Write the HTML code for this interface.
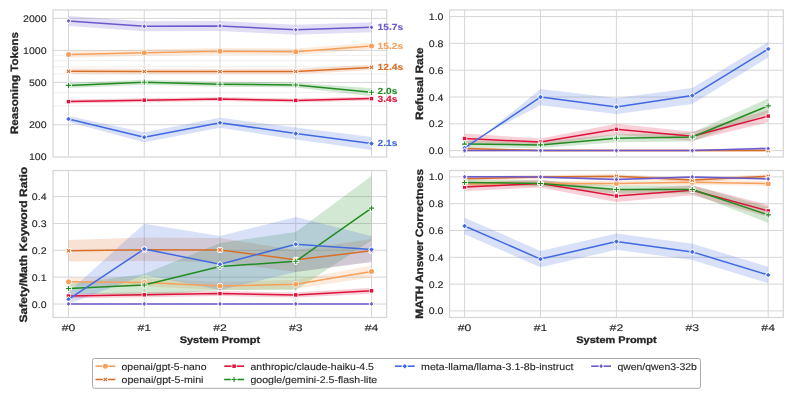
<!DOCTYPE html>
<html><head><meta charset="utf-8"><style>
html,body{margin:0;padding:0;background:#fff;}
svg{display:block;font-family:"Liberation Sans", sans-serif;will-change:transform;text-rendering:geometricPrecision;}
</style></head><body>
<svg width="793" height="397" viewBox="0 0 793 397">
<rect width="793" height="397" fill="#fff"/>
<g>
<line x1="53" y1="105.98" x2="386.7" y2="105.98" stroke="#ebebeb" stroke-width="0.8"/>
<line x1="53" y1="92.7" x2="386.7" y2="92.7" stroke="#ebebeb" stroke-width="0.8"/>
<line x1="53" y1="73.98" x2="386.7" y2="73.98" stroke="#ebebeb" stroke-width="0.8"/>
<line x1="53" y1="66.87" x2="386.7" y2="66.87" stroke="#ebebeb" stroke-width="0.8"/>
<line x1="53" y1="60.7" x2="386.7" y2="60.7" stroke="#ebebeb" stroke-width="0.8"/>
<line x1="53" y1="55.26" x2="386.7" y2="55.26" stroke="#ebebeb" stroke-width="0.8"/>
<line x1="68.5" y1="10" x2="68.5" y2="157" stroke="#d6d6d6" stroke-width="1"/>
<line x1="144.25" y1="10" x2="144.25" y2="157" stroke="#d6d6d6" stroke-width="1"/>
<line x1="220" y1="10" x2="220" y2="157" stroke="#d6d6d6" stroke-width="1"/>
<line x1="295.75" y1="10" x2="295.75" y2="157" stroke="#d6d6d6" stroke-width="1"/>
<line x1="371.5" y1="10" x2="371.5" y2="157" stroke="#d6d6d6" stroke-width="1"/>
<line x1="53" y1="18.4" x2="386.7" y2="18.4" stroke="#d6d6d6" stroke-width="1"/>
<line x1="53" y1="50.4" x2="386.7" y2="50.4" stroke="#d6d6d6" stroke-width="1"/>
<line x1="53" y1="82.4" x2="386.7" y2="82.4" stroke="#d6d6d6" stroke-width="1"/>
<line x1="53" y1="124.7" x2="386.7" y2="124.7" stroke="#d6d6d6" stroke-width="1"/>
<polygon points="68.5,57.7 144.25,55.9 220,54.5 295.75,55 371.5,49.1 371.5,42.7 295.75,48.6 220,48.1 144.25,49.5 68.5,51.3" fill="#F5A05C" fill-opacity="0.2" stroke="none"/>
<polygon points="68.5,74 144.25,74.2 220,74.3 295.75,74.2 371.5,70.1 371.5,64.7 295.75,68.8 220,68.9 144.25,68.8 68.5,68.6" fill="#D9702A" fill-opacity="0.2" stroke="none"/>
<polygon points="68.5,103.6 144.25,102.2 220,101.1 295.75,102.4 371.5,100.6 371.5,96.6 295.75,98.4 220,97.1 144.25,98.2 68.5,99.6" fill="#DC143C" fill-opacity="0.2" stroke="none"/>
<polygon points="68.5,87.9 144.25,84.7 220,86.7 295.75,87.5 371.5,96.3 371.5,88.3 295.75,82.5 220,81.7 144.25,79.7 68.5,82.9" fill="#228B22" fill-opacity="0.2" stroke="none"/>
<polygon points="68.5,122 144.25,142.2 220,127.7 295.75,139.6 371.5,150.1 371.5,137.1 295.75,127.6 220,117.7 144.25,132.2 68.5,116" fill="#4169E1" fill-opacity="0.2" stroke="none"/>
<polygon points="68.5,25.9 144.25,31.3 220,30.9 295.75,34.75 371.5,32.3 371.5,22.3 295.75,24.75 220,20.9 144.25,21.3 68.5,15.9" fill="#6A5ACD" fill-opacity="0.2" stroke="none"/>
<polyline points="68.5,54.5 144.25,52.7 220,51.3 295.75,51.8 371.5,45.9" fill="none" stroke="#F5A05C" stroke-width="1.5" stroke-linejoin="round" stroke-linecap="round"/>
<circle cx="68.5" cy="54.5" r="2.5" fill="#F5A05C" stroke="#fff" stroke-width="1.2800000000000002" paint-order="stroke"/>
<circle cx="144.25" cy="52.7" r="2.5" fill="#F5A05C" stroke="#fff" stroke-width="1.2800000000000002" paint-order="stroke"/>
<circle cx="220" cy="51.3" r="2.5" fill="#F5A05C" stroke="#fff" stroke-width="1.2800000000000002" paint-order="stroke"/>
<circle cx="295.75" cy="51.8" r="2.5" fill="#F5A05C" stroke="#fff" stroke-width="1.2800000000000002" paint-order="stroke"/>
<circle cx="371.5" cy="45.9" r="2.5" fill="#F5A05C" stroke="#fff" stroke-width="1.2800000000000002" paint-order="stroke"/>
<polyline points="68.5,71.3 144.25,71.5 220,71.6 295.75,71.5 371.5,67.4" fill="none" stroke="#D9702A" stroke-width="1.5" stroke-linejoin="round" stroke-linecap="round"/>
<path d="M69.7,69.25L70.55,70.1L69.35,71.3L70.55,72.5L69.7,73.35L68.5,72.15L67.3,73.35L66.45,72.5L67.65,71.3L66.45,70.1L67.3,69.25L68.5,70.45Z" fill="#D9702A" stroke="#fff" stroke-width="1.92" paint-order="stroke"/>
<path d="M145.45,69.45L146.3,70.3L145.1,71.5L146.3,72.7L145.45,73.55L144.25,72.35L143.05,73.55L142.2,72.7L143.4,71.5L142.2,70.3L143.05,69.45L144.25,70.65Z" fill="#D9702A" stroke="#fff" stroke-width="1.92" paint-order="stroke"/>
<path d="M221.2,69.55L222.05,70.4L220.85,71.6L222.05,72.8L221.2,73.65L220,72.45L218.8,73.65L217.95,72.8L219.15,71.6L217.95,70.4L218.8,69.55L220,70.75Z" fill="#D9702A" stroke="#fff" stroke-width="1.92" paint-order="stroke"/>
<path d="M296.95,69.45L297.8,70.3L296.6,71.5L297.8,72.7L296.95,73.55L295.75,72.35L294.55,73.55L293.7,72.7L294.9,71.5L293.7,70.3L294.55,69.45L295.75,70.65Z" fill="#D9702A" stroke="#fff" stroke-width="1.92" paint-order="stroke"/>
<path d="M372.7,65.35L373.55,66.2L372.35,67.4L373.55,68.6L372.7,69.45L371.5,68.25L370.3,69.45L369.45,68.6L370.65,67.4L369.45,66.2L370.3,65.35L371.5,66.55Z" fill="#D9702A" stroke="#fff" stroke-width="1.92" paint-order="stroke"/>
<polyline points="68.5,101.6 144.25,100.2 220,99.1 295.75,100.4 371.5,98.6" fill="none" stroke="#DC143C" stroke-width="1.5" stroke-linejoin="round" stroke-linecap="round"/>
<rect x="66.75" y="99.85" width="3.5" height="3.5" fill="#DC143C" stroke="#fff" stroke-width="1.6" paint-order="stroke"/>
<rect x="142.5" y="98.45" width="3.5" height="3.5" fill="#DC143C" stroke="#fff" stroke-width="1.6" paint-order="stroke"/>
<rect x="218.25" y="97.35" width="3.5" height="3.5" fill="#DC143C" stroke="#fff" stroke-width="1.6" paint-order="stroke"/>
<rect x="294" y="98.65" width="3.5" height="3.5" fill="#DC143C" stroke="#fff" stroke-width="1.6" paint-order="stroke"/>
<rect x="369.75" y="96.85" width="3.5" height="3.5" fill="#DC143C" stroke="#fff" stroke-width="1.6" paint-order="stroke"/>
<polyline points="68.5,85.4 144.25,82.2 220,84.2 295.75,85 371.5,92.3" fill="none" stroke="#228B22" stroke-width="1.5" stroke-linejoin="round" stroke-linecap="round"/>
<path d="M67.95,82.8L69.05,82.8L69.05,84.85L71.1,84.85L71.1,85.95L69.05,85.95L69.05,88L67.95,88L67.95,85.95L65.9,85.95L65.9,84.85L67.95,84.85Z" fill="#228B22" stroke="#fff" stroke-width="1.6" paint-order="stroke"/>
<path d="M143.7,79.6L144.8,79.6L144.8,81.65L146.85,81.65L146.85,82.75L144.8,82.75L144.8,84.8L143.7,84.8L143.7,82.75L141.65,82.75L141.65,81.65L143.7,81.65Z" fill="#228B22" stroke="#fff" stroke-width="1.6" paint-order="stroke"/>
<path d="M219.45,81.6L220.55,81.6L220.55,83.65L222.6,83.65L222.6,84.75L220.55,84.75L220.55,86.8L219.45,86.8L219.45,84.75L217.4,84.75L217.4,83.65L219.45,83.65Z" fill="#228B22" stroke="#fff" stroke-width="1.6" paint-order="stroke"/>
<path d="M295.2,82.4L296.3,82.4L296.3,84.45L298.35,84.45L298.35,85.55L296.3,85.55L296.3,87.6L295.2,87.6L295.2,85.55L293.15,85.55L293.15,84.45L295.2,84.45Z" fill="#228B22" stroke="#fff" stroke-width="1.6" paint-order="stroke"/>
<path d="M370.95,89.7L372.05,89.7L372.05,91.75L374.1,91.75L374.1,92.85L372.05,92.85L372.05,94.9L370.95,94.9L370.95,92.85L368.9,92.85L368.9,91.75L370.95,91.75Z" fill="#228B22" stroke="#fff" stroke-width="1.6" paint-order="stroke"/>
<polyline points="68.5,119 144.25,137.2 220,122.7 295.75,133.6 371.5,143.6" fill="none" stroke="#4169E1" stroke-width="1.5" stroke-linejoin="round" stroke-linecap="round"/>
<path d="M68.5,116.7L70.8,119L68.5,121.3L66.2,119Z" fill="#4169E1" stroke="#fff" stroke-width="1.6" paint-order="stroke"/>
<path d="M144.25,134.9L146.55,137.2L144.25,139.5L141.95,137.2Z" fill="#4169E1" stroke="#fff" stroke-width="1.6" paint-order="stroke"/>
<path d="M220,120.4L222.3,122.7L220,125L217.7,122.7Z" fill="#4169E1" stroke="#fff" stroke-width="1.6" paint-order="stroke"/>
<path d="M295.75,131.3L298.05,133.6L295.75,135.9L293.45,133.6Z" fill="#4169E1" stroke="#fff" stroke-width="1.6" paint-order="stroke"/>
<path d="M371.5,141.3L373.8,143.6L371.5,145.9L369.2,143.6Z" fill="#4169E1" stroke="#fff" stroke-width="1.6" paint-order="stroke"/>
<polyline points="68.5,20.9 144.25,26.3 220,25.9 295.75,29.75 371.5,27.3" fill="none" stroke="#6A5ACD" stroke-width="1.5" stroke-linejoin="round" stroke-linecap="round"/>
<path d="M68.5,18.8L70.3,20.9L68.5,23L66.7,20.9Z" fill="#6A5ACD" stroke="#fff" stroke-width="1.6" paint-order="stroke"/>
<path d="M144.25,24.2L146.05,26.3L144.25,28.4L142.45,26.3Z" fill="#6A5ACD" stroke="#fff" stroke-width="1.6" paint-order="stroke"/>
<path d="M220,23.8L221.8,25.9L220,28L218.2,25.9Z" fill="#6A5ACD" stroke="#fff" stroke-width="1.6" paint-order="stroke"/>
<path d="M295.75,27.65L297.55,29.75L295.75,31.85L293.95,29.75Z" fill="#6A5ACD" stroke="#fff" stroke-width="1.6" paint-order="stroke"/>
<path d="M371.5,25.2L373.3,27.3L371.5,29.4L369.7,27.3Z" fill="#6A5ACD" stroke="#fff" stroke-width="1.6" paint-order="stroke"/>
<rect x="53" y="10" width="333.7" height="147" fill="none" stroke="#d4d4d4" stroke-width="1.2"/>
<text x="377.5" y="30" font-size="8.9" font-weight="bold" text-anchor="start" fill="#6A5ACD" stroke="#6A5ACD" stroke-width="0.1" textLength="25.73" lengthAdjust="spacingAndGlyphs" >15.7s</text>
<text x="377.5" y="48.6" font-size="8.9" font-weight="bold" text-anchor="start" fill="#F5A05C" stroke="#F5A05C" stroke-width="0.1" textLength="25.73" lengthAdjust="spacingAndGlyphs" >15.2s</text>
<text x="377.5" y="70" font-size="8.9" font-weight="bold" text-anchor="start" fill="#D9702A" stroke="#D9702A" stroke-width="0.1" textLength="25.73" lengthAdjust="spacingAndGlyphs" >12.4s</text>
<text x="377.5" y="94.3" font-size="8.9" font-weight="bold" text-anchor="start" fill="#228B22" stroke="#228B22" stroke-width="0.1" textLength="19.88" lengthAdjust="spacingAndGlyphs" >2.0s</text>
<text x="377.5" y="101.5" font-size="8.9" font-weight="bold" text-anchor="start" fill="#DC143C" stroke="#DC143C" stroke-width="0.1" textLength="19.88" lengthAdjust="spacingAndGlyphs" >3.4s</text>
<text x="377.5" y="146" font-size="8.9" font-weight="bold" text-anchor="start" fill="#4169E1" stroke="#4169E1" stroke-width="0.1" textLength="19.88" lengthAdjust="spacingAndGlyphs" >2.1s</text>
<text x="46.6" y="21.9" font-size="9.53" font-weight="normal" text-anchor="end" fill="#262626" stroke="#262626" stroke-width="0.12" textLength="23.54" lengthAdjust="spacingAndGlyphs" >2000</text>
<text x="46.6" y="53.9" font-size="9.53" font-weight="normal" text-anchor="end" fill="#262626" stroke="#262626" stroke-width="0.12" textLength="23.54" lengthAdjust="spacingAndGlyphs" >1000</text>
<text x="46.6" y="85.9" font-size="9.53" font-weight="normal" text-anchor="end" fill="#262626" stroke="#262626" stroke-width="0.12" textLength="17.66" lengthAdjust="spacingAndGlyphs" >500</text>
<text x="46.6" y="128.2" font-size="9.53" font-weight="normal" text-anchor="end" fill="#262626" stroke="#262626" stroke-width="0.12" textLength="17.66" lengthAdjust="spacingAndGlyphs" >200</text>
<text x="46.6" y="160.2" font-size="9.53" font-weight="normal" text-anchor="end" fill="#262626" stroke="#262626" stroke-width="0.12" textLength="17.66" lengthAdjust="spacingAndGlyphs" >100</text>
</g>
<line x1="464.6" y1="10" x2="464.6" y2="157" stroke="#d6d6d6" stroke-width="1"/>
<line x1="540.5" y1="10" x2="540.5" y2="157" stroke="#d6d6d6" stroke-width="1"/>
<line x1="616.4" y1="10" x2="616.4" y2="157" stroke="#d6d6d6" stroke-width="1"/>
<line x1="692.3" y1="10" x2="692.3" y2="157" stroke="#d6d6d6" stroke-width="1"/>
<line x1="768.2" y1="10" x2="768.2" y2="157" stroke="#d6d6d6" stroke-width="1"/>
<line x1="449.6" y1="150.6" x2="783.3" y2="150.6" stroke="#d6d6d6" stroke-width="1"/>
<line x1="449.6" y1="123.8" x2="783.3" y2="123.8" stroke="#d6d6d6" stroke-width="1"/>
<line x1="449.6" y1="97" x2="783.3" y2="97" stroke="#d6d6d6" stroke-width="1"/>
<line x1="449.6" y1="70.2" x2="783.3" y2="70.2" stroke="#d6d6d6" stroke-width="1"/>
<line x1="449.6" y1="43.4" x2="783.3" y2="43.4" stroke="#d6d6d6" stroke-width="1"/>
<line x1="449.6" y1="16.6" x2="783.3" y2="16.6" stroke="#d6d6d6" stroke-width="1"/>
<polygon points="464.6,150.6 540.5,150.6 616.4,150.6 692.3,150.6 768.2,150.6 768.2,150.6 692.3,150.6 616.4,150.6 540.5,150.6 464.6,150.6" fill="#F5A05C" fill-opacity="0.2" stroke="none"/>
<polygon points="464.6,150.5 540.5,150.6 616.4,150.6 692.3,150.6 768.2,150.6 768.2,150.6 692.3,150.6 616.4,150.6 540.5,150.6 464.6,146.5" fill="#D9702A" fill-opacity="0.2" stroke="none"/>
<polygon points="464.6,143.5 540.5,145.6 616.4,134.8 692.3,140.8 768.2,122.1 768.2,110.1 692.3,131.8 616.4,123.8 540.5,138.6 464.6,133.5" fill="#DC143C" fill-opacity="0.2" stroke="none"/>
<polygon points="464.6,147.6 540.5,147.9 616.4,142.2 692.3,141.5 768.2,113.4 768.2,98.4 692.3,132.5 616.4,134.2 540.5,141.9 464.6,140.6" fill="#228B22" fill-opacity="0.2" stroke="none"/>
<polygon points="464.6,145 540.5,105.2 616.4,114 692.3,104 768.2,57.5 768.2,42 692.3,88 616.4,98 540.5,89 464.6,150.6" fill="#4169E1" fill-opacity="0.2" stroke="none"/>
<polygon points="464.6,150.6 540.5,150.6 616.4,150.6 692.3,150.6 768.2,150 768.2,147 692.3,150.6 616.4,150.6 540.5,150.6 464.6,150.6" fill="#6A5ACD" fill-opacity="0.2" stroke="none"/>
<polyline points="464.6,150.6 540.5,150.6 616.4,150.6 692.3,150.6 768.2,150.6" fill="none" stroke="#F5A05C" stroke-width="1.5" stroke-linejoin="round" stroke-linecap="round"/>
<circle cx="464.6" cy="150.6" r="2.5" fill="#F5A05C" stroke="#fff" stroke-width="1.2800000000000002" paint-order="stroke"/>
<circle cx="540.5" cy="150.6" r="2.5" fill="#F5A05C" stroke="#fff" stroke-width="1.2800000000000002" paint-order="stroke"/>
<circle cx="616.4" cy="150.6" r="2.5" fill="#F5A05C" stroke="#fff" stroke-width="1.2800000000000002" paint-order="stroke"/>
<circle cx="692.3" cy="150.6" r="2.5" fill="#F5A05C" stroke="#fff" stroke-width="1.2800000000000002" paint-order="stroke"/>
<circle cx="768.2" cy="150.6" r="2.5" fill="#F5A05C" stroke="#fff" stroke-width="1.2800000000000002" paint-order="stroke"/>
<polyline points="464.6,148.5 540.5,150.6 616.4,150.6 692.3,150.6 768.2,150.6" fill="none" stroke="#D9702A" stroke-width="1.5" stroke-linejoin="round" stroke-linecap="round"/>
<path d="M465.8,146.45L466.65,147.3L465.45,148.5L466.65,149.7L465.8,150.55L464.6,149.35L463.4,150.55L462.55,149.7L463.75,148.5L462.55,147.3L463.4,146.45L464.6,147.65Z" fill="#D9702A" stroke="#fff" stroke-width="1.92" paint-order="stroke"/>
<path d="M541.7,148.55L542.55,149.4L541.35,150.6L542.55,151.8L541.7,152.65L540.5,151.45L539.3,152.65L538.45,151.8L539.65,150.6L538.45,149.4L539.3,148.55L540.5,149.75Z" fill="#D9702A" stroke="#fff" stroke-width="1.92" paint-order="stroke"/>
<path d="M617.6,148.55L618.45,149.4L617.25,150.6L618.45,151.8L617.6,152.65L616.4,151.45L615.2,152.65L614.35,151.8L615.55,150.6L614.35,149.4L615.2,148.55L616.4,149.75Z" fill="#D9702A" stroke="#fff" stroke-width="1.92" paint-order="stroke"/>
<path d="M693.5,148.55L694.35,149.4L693.15,150.6L694.35,151.8L693.5,152.65L692.3,151.45L691.1,152.65L690.25,151.8L691.45,150.6L690.25,149.4L691.1,148.55L692.3,149.75Z" fill="#D9702A" stroke="#fff" stroke-width="1.92" paint-order="stroke"/>
<path d="M769.4,148.55L770.25,149.4L769.05,150.6L770.25,151.8L769.4,152.65L768.2,151.45L767,152.65L766.15,151.8L767.35,150.6L766.15,149.4L767,148.55L768.2,149.75Z" fill="#D9702A" stroke="#fff" stroke-width="1.92" paint-order="stroke"/>
<polyline points="464.6,138.5 540.5,142.1 616.4,129.3 692.3,136.3 768.2,116.1" fill="none" stroke="#DC143C" stroke-width="1.5" stroke-linejoin="round" stroke-linecap="round"/>
<rect x="462.85" y="136.75" width="3.5" height="3.5" fill="#DC143C" stroke="#fff" stroke-width="1.6" paint-order="stroke"/>
<rect x="538.75" y="140.35" width="3.5" height="3.5" fill="#DC143C" stroke="#fff" stroke-width="1.6" paint-order="stroke"/>
<rect x="614.65" y="127.55" width="3.5" height="3.5" fill="#DC143C" stroke="#fff" stroke-width="1.6" paint-order="stroke"/>
<rect x="690.55" y="134.55" width="3.5" height="3.5" fill="#DC143C" stroke="#fff" stroke-width="1.6" paint-order="stroke"/>
<rect x="766.45" y="114.35" width="3.5" height="3.5" fill="#DC143C" stroke="#fff" stroke-width="1.6" paint-order="stroke"/>
<polyline points="464.6,144.1 540.5,144.9 616.4,138.2 692.3,137 768.2,105.9" fill="none" stroke="#228B22" stroke-width="1.5" stroke-linejoin="round" stroke-linecap="round"/>
<path d="M464.05,141.5L465.15,141.5L465.15,143.55L467.2,143.55L467.2,144.65L465.15,144.65L465.15,146.7L464.05,146.7L464.05,144.65L462,144.65L462,143.55L464.05,143.55Z" fill="#228B22" stroke="#fff" stroke-width="1.6" paint-order="stroke"/>
<path d="M539.95,142.3L541.05,142.3L541.05,144.35L543.1,144.35L543.1,145.45L541.05,145.45L541.05,147.5L539.95,147.5L539.95,145.45L537.9,145.45L537.9,144.35L539.95,144.35Z" fill="#228B22" stroke="#fff" stroke-width="1.6" paint-order="stroke"/>
<path d="M615.85,135.6L616.95,135.6L616.95,137.65L619,137.65L619,138.75L616.95,138.75L616.95,140.8L615.85,140.8L615.85,138.75L613.8,138.75L613.8,137.65L615.85,137.65Z" fill="#228B22" stroke="#fff" stroke-width="1.6" paint-order="stroke"/>
<path d="M691.75,134.4L692.85,134.4L692.85,136.45L694.9,136.45L694.9,137.55L692.85,137.55L692.85,139.6L691.75,139.6L691.75,137.55L689.7,137.55L689.7,136.45L691.75,136.45Z" fill="#228B22" stroke="#fff" stroke-width="1.6" paint-order="stroke"/>
<path d="M767.65,103.3L768.75,103.3L768.75,105.35L770.8,105.35L770.8,106.45L768.75,106.45L768.75,108.5L767.65,108.5L767.65,106.45L765.6,106.45L765.6,105.35L767.65,105.35Z" fill="#228B22" stroke="#fff" stroke-width="1.6" paint-order="stroke"/>
<polyline points="464.6,148 540.5,97.1 616.4,107 692.3,95.6 768.2,49" fill="none" stroke="#4169E1" stroke-width="1.5" stroke-linejoin="round" stroke-linecap="round"/>
<path d="M464.6,145.7L466.9,148L464.6,150.3L462.3,148Z" fill="#4169E1" stroke="#fff" stroke-width="1.6" paint-order="stroke"/>
<path d="M540.5,94.8L542.8,97.1L540.5,99.4L538.2,97.1Z" fill="#4169E1" stroke="#fff" stroke-width="1.6" paint-order="stroke"/>
<path d="M616.4,104.7L618.7,107L616.4,109.3L614.1,107Z" fill="#4169E1" stroke="#fff" stroke-width="1.6" paint-order="stroke"/>
<path d="M692.3,93.3L694.6,95.6L692.3,97.9L690,95.6Z" fill="#4169E1" stroke="#fff" stroke-width="1.6" paint-order="stroke"/>
<path d="M768.2,46.7L770.5,49L768.2,51.3L765.9,49Z" fill="#4169E1" stroke="#fff" stroke-width="1.6" paint-order="stroke"/>
<polyline points="464.6,150.6 540.5,150.6 616.4,150.6 692.3,150.6 768.2,148.5" fill="none" stroke="#6A5ACD" stroke-width="1.5" stroke-linejoin="round" stroke-linecap="round"/>
<path d="M464.6,148.5L466.4,150.6L464.6,152.7L462.8,150.6Z" fill="#6A5ACD" stroke="#fff" stroke-width="1.6" paint-order="stroke"/>
<path d="M540.5,148.5L542.3,150.6L540.5,152.7L538.7,150.6Z" fill="#6A5ACD" stroke="#fff" stroke-width="1.6" paint-order="stroke"/>
<path d="M616.4,148.5L618.2,150.6L616.4,152.7L614.6,150.6Z" fill="#6A5ACD" stroke="#fff" stroke-width="1.6" paint-order="stroke"/>
<path d="M692.3,148.5L694.1,150.6L692.3,152.7L690.5,150.6Z" fill="#6A5ACD" stroke="#fff" stroke-width="1.6" paint-order="stroke"/>
<path d="M768.2,146.4L770,148.5L768.2,150.6L766.4,148.5Z" fill="#6A5ACD" stroke="#fff" stroke-width="1.6" paint-order="stroke"/>
<rect x="449.6" y="10" width="333.7" height="147" fill="none" stroke="#d4d4d4" stroke-width="1.2"/>
<text x="443.5" y="154.1" font-size="9.53" font-weight="normal" text-anchor="end" fill="#262626" stroke="#262626" stroke-width="0.12" textLength="14.71" lengthAdjust="spacingAndGlyphs" >0.0</text>
<text x="443.5" y="127.3" font-size="9.53" font-weight="normal" text-anchor="end" fill="#262626" stroke="#262626" stroke-width="0.12" textLength="14.71" lengthAdjust="spacingAndGlyphs" >0.2</text>
<text x="443.5" y="100.5" font-size="9.53" font-weight="normal" text-anchor="end" fill="#262626" stroke="#262626" stroke-width="0.12" textLength="14.71" lengthAdjust="spacingAndGlyphs" >0.4</text>
<text x="443.5" y="73.7" font-size="9.53" font-weight="normal" text-anchor="end" fill="#262626" stroke="#262626" stroke-width="0.12" textLength="14.71" lengthAdjust="spacingAndGlyphs" >0.6</text>
<text x="443.5" y="46.9" font-size="9.53" font-weight="normal" text-anchor="end" fill="#262626" stroke="#262626" stroke-width="0.12" textLength="14.71" lengthAdjust="spacingAndGlyphs" >0.8</text>
<text x="443.5" y="20.1" font-size="9.53" font-weight="normal" text-anchor="end" fill="#262626" stroke="#262626" stroke-width="0.12" textLength="14.71" lengthAdjust="spacingAndGlyphs" >1.0</text>
<line x1="68.5" y1="170.5" x2="68.5" y2="317.5" stroke="#d6d6d6" stroke-width="1"/>
<line x1="144.25" y1="170.5" x2="144.25" y2="317.5" stroke="#d6d6d6" stroke-width="1"/>
<line x1="220" y1="170.5" x2="220" y2="317.5" stroke="#d6d6d6" stroke-width="1"/>
<line x1="295.75" y1="170.5" x2="295.75" y2="317.5" stroke="#d6d6d6" stroke-width="1"/>
<line x1="371.5" y1="170.5" x2="371.5" y2="317.5" stroke="#d6d6d6" stroke-width="1"/>
<line x1="53" y1="304" x2="386.7" y2="304" stroke="#d6d6d6" stroke-width="1"/>
<line x1="53" y1="277.15" x2="386.7" y2="277.15" stroke="#d6d6d6" stroke-width="1"/>
<line x1="53" y1="250.3" x2="386.7" y2="250.3" stroke="#d6d6d6" stroke-width="1"/>
<line x1="53" y1="223.45" x2="386.7" y2="223.45" stroke="#d6d6d6" stroke-width="1"/>
<line x1="53" y1="196.6" x2="386.7" y2="196.6" stroke="#d6d6d6" stroke-width="1"/>
<polygon points="68.5,285.7 144.25,286.5 220,289.9 295.75,288.8 371.5,277.5 371.5,265.5 295.75,279.8 220,281.9 144.25,278.5 68.5,277.7" fill="#F5A05C" fill-opacity="0.2" stroke="none"/>
<polygon points="68.5,240 144.25,237.6 220,238 295.75,250 371.5,239 371.5,262 295.75,272 220,262 144.25,261 68.5,261.6" fill="#D9702A" fill-opacity="0.2" stroke="none"/>
<polygon points="68.5,298.5 144.25,297.3 220,296.1 295.75,297.4 371.5,293.8 371.5,287.8 295.75,292.4 220,291.1 144.25,292.3 68.5,293.5" fill="#DC143C" fill-opacity="0.2" stroke="none"/>
<polygon points="68.5,284 144.25,274 220,243 295.75,232 371.5,176 371.5,240.5 295.75,290 220,290 144.25,296 68.5,293" fill="#228B22" fill-opacity="0.2" stroke="none"/>
<polygon points="68.5,292 144.25,223.8 220,236 295.75,217 371.5,236 371.5,262 295.75,272 220,290 144.25,275 68.5,304" fill="#4169E1" fill-opacity="0.2" stroke="none"/>
<polygon points="68.5,303.9 144.25,303.9 220,303.9 295.75,303.9 371.5,303.9 371.5,303.9 295.75,303.9 220,303.9 144.25,303.9 68.5,303.9" fill="#6A5ACD" fill-opacity="0.2" stroke="none"/>
<polyline points="68.5,281.7 144.25,282.5 220,285.9 295.75,284.3 371.5,271.5" fill="none" stroke="#F5A05C" stroke-width="1.5" stroke-linejoin="round" stroke-linecap="round"/>
<circle cx="68.5" cy="281.7" r="2.5" fill="#F5A05C" stroke="#fff" stroke-width="1.2800000000000002" paint-order="stroke"/>
<circle cx="144.25" cy="282.5" r="2.5" fill="#F5A05C" stroke="#fff" stroke-width="1.2800000000000002" paint-order="stroke"/>
<circle cx="220" cy="285.9" r="2.5" fill="#F5A05C" stroke="#fff" stroke-width="1.2800000000000002" paint-order="stroke"/>
<circle cx="295.75" cy="284.3" r="2.5" fill="#F5A05C" stroke="#fff" stroke-width="1.2800000000000002" paint-order="stroke"/>
<circle cx="371.5" cy="271.5" r="2.5" fill="#F5A05C" stroke="#fff" stroke-width="1.2800000000000002" paint-order="stroke"/>
<polyline points="68.5,250.7 144.25,249.7 220,249.9 295.75,259.8 371.5,250.8" fill="none" stroke="#D9702A" stroke-width="1.5" stroke-linejoin="round" stroke-linecap="round"/>
<path d="M69.7,248.65L70.55,249.5L69.35,250.7L70.55,251.9L69.7,252.75L68.5,251.55L67.3,252.75L66.45,251.9L67.65,250.7L66.45,249.5L67.3,248.65L68.5,249.85Z" fill="#D9702A" stroke="#fff" stroke-width="1.92" paint-order="stroke"/>
<path d="M145.45,247.65L146.3,248.5L145.1,249.7L146.3,250.9L145.45,251.75L144.25,250.55L143.05,251.75L142.2,250.9L143.4,249.7L142.2,248.5L143.05,247.65L144.25,248.85Z" fill="#D9702A" stroke="#fff" stroke-width="1.92" paint-order="stroke"/>
<path d="M221.2,247.85L222.05,248.7L220.85,249.9L222.05,251.1L221.2,251.95L220,250.75L218.8,251.95L217.95,251.1L219.15,249.9L217.95,248.7L218.8,247.85L220,249.05Z" fill="#D9702A" stroke="#fff" stroke-width="1.92" paint-order="stroke"/>
<path d="M296.95,257.75L297.8,258.6L296.6,259.8L297.8,261L296.95,261.85L295.75,260.65L294.55,261.85L293.7,261L294.9,259.8L293.7,258.6L294.55,257.75L295.75,258.95Z" fill="#D9702A" stroke="#fff" stroke-width="1.92" paint-order="stroke"/>
<path d="M372.7,248.75L373.55,249.6L372.35,250.8L373.55,252L372.7,252.85L371.5,251.65L370.3,252.85L369.45,252L370.65,250.8L369.45,249.6L370.3,248.75L371.5,249.95Z" fill="#D9702A" stroke="#fff" stroke-width="1.92" paint-order="stroke"/>
<polyline points="68.5,296 144.25,294.8 220,293.6 295.75,294.9 371.5,290.8" fill="none" stroke="#DC143C" stroke-width="1.5" stroke-linejoin="round" stroke-linecap="round"/>
<rect x="66.75" y="294.25" width="3.5" height="3.5" fill="#DC143C" stroke="#fff" stroke-width="1.6" paint-order="stroke"/>
<rect x="142.5" y="293.05" width="3.5" height="3.5" fill="#DC143C" stroke="#fff" stroke-width="1.6" paint-order="stroke"/>
<rect x="218.25" y="291.85" width="3.5" height="3.5" fill="#DC143C" stroke="#fff" stroke-width="1.6" paint-order="stroke"/>
<rect x="294" y="293.15" width="3.5" height="3.5" fill="#DC143C" stroke="#fff" stroke-width="1.6" paint-order="stroke"/>
<rect x="369.75" y="289.05" width="3.5" height="3.5" fill="#DC143C" stroke="#fff" stroke-width="1.6" paint-order="stroke"/>
<polyline points="68.5,288.5 144.25,285 220,266.5 295.75,261.3 371.5,208.1" fill="none" stroke="#228B22" stroke-width="1.5" stroke-linejoin="round" stroke-linecap="round"/>
<path d="M67.95,285.9L69.05,285.9L69.05,287.95L71.1,287.95L71.1,289.05L69.05,289.05L69.05,291.1L67.95,291.1L67.95,289.05L65.9,289.05L65.9,287.95L67.95,287.95Z" fill="#228B22" stroke="#fff" stroke-width="1.6" paint-order="stroke"/>
<path d="M143.7,282.4L144.8,282.4L144.8,284.45L146.85,284.45L146.85,285.55L144.8,285.55L144.8,287.6L143.7,287.6L143.7,285.55L141.65,285.55L141.65,284.45L143.7,284.45Z" fill="#228B22" stroke="#fff" stroke-width="1.6" paint-order="stroke"/>
<path d="M219.45,263.9L220.55,263.9L220.55,265.95L222.6,265.95L222.6,267.05L220.55,267.05L220.55,269.1L219.45,269.1L219.45,267.05L217.4,267.05L217.4,265.95L219.45,265.95Z" fill="#228B22" stroke="#fff" stroke-width="1.6" paint-order="stroke"/>
<path d="M295.2,258.7L296.3,258.7L296.3,260.75L298.35,260.75L298.35,261.85L296.3,261.85L296.3,263.9L295.2,263.9L295.2,261.85L293.15,261.85L293.15,260.75L295.2,260.75Z" fill="#228B22" stroke="#fff" stroke-width="1.6" paint-order="stroke"/>
<path d="M370.95,205.5L372.05,205.5L372.05,207.55L374.1,207.55L374.1,208.65L372.05,208.65L372.05,210.7L370.95,210.7L370.95,208.65L368.9,208.65L368.9,207.55L370.95,207.55Z" fill="#228B22" stroke="#fff" stroke-width="1.6" paint-order="stroke"/>
<polyline points="68.5,299.3 144.25,249 220,264.3 295.75,244.3 371.5,249.6" fill="none" stroke="#4169E1" stroke-width="1.5" stroke-linejoin="round" stroke-linecap="round"/>
<path d="M68.5,297L70.8,299.3L68.5,301.6L66.2,299.3Z" fill="#4169E1" stroke="#fff" stroke-width="1.6" paint-order="stroke"/>
<path d="M144.25,246.7L146.55,249L144.25,251.3L141.95,249Z" fill="#4169E1" stroke="#fff" stroke-width="1.6" paint-order="stroke"/>
<path d="M220,262L222.3,264.3L220,266.6L217.7,264.3Z" fill="#4169E1" stroke="#fff" stroke-width="1.6" paint-order="stroke"/>
<path d="M295.75,242L298.05,244.3L295.75,246.6L293.45,244.3Z" fill="#4169E1" stroke="#fff" stroke-width="1.6" paint-order="stroke"/>
<path d="M371.5,247.3L373.8,249.6L371.5,251.9L369.2,249.6Z" fill="#4169E1" stroke="#fff" stroke-width="1.6" paint-order="stroke"/>
<polyline points="68.5,303.9 144.25,303.9 220,303.9 295.75,303.9 371.5,303.9" fill="none" stroke="#6A5ACD" stroke-width="1.5" stroke-linejoin="round" stroke-linecap="round"/>
<path d="M68.5,301.8L70.3,303.9L68.5,306L66.7,303.9Z" fill="#6A5ACD" stroke="#fff" stroke-width="1.6" paint-order="stroke"/>
<path d="M144.25,301.8L146.05,303.9L144.25,306L142.45,303.9Z" fill="#6A5ACD" stroke="#fff" stroke-width="1.6" paint-order="stroke"/>
<path d="M220,301.8L221.8,303.9L220,306L218.2,303.9Z" fill="#6A5ACD" stroke="#fff" stroke-width="1.6" paint-order="stroke"/>
<path d="M295.75,301.8L297.55,303.9L295.75,306L293.95,303.9Z" fill="#6A5ACD" stroke="#fff" stroke-width="1.6" paint-order="stroke"/>
<path d="M371.5,301.8L373.3,303.9L371.5,306L369.7,303.9Z" fill="#6A5ACD" stroke="#fff" stroke-width="1.6" paint-order="stroke"/>
<rect x="53" y="170.5" width="333.7" height="147" fill="none" stroke="#d4d4d4" stroke-width="1.2"/>
<text x="46.6" y="307.5" font-size="9.53" font-weight="normal" text-anchor="end" fill="#262626" stroke="#262626" stroke-width="0.12" textLength="14.71" lengthAdjust="spacingAndGlyphs" >0.0</text>
<text x="46.6" y="280.65" font-size="9.53" font-weight="normal" text-anchor="end" fill="#262626" stroke="#262626" stroke-width="0.12" textLength="14.71" lengthAdjust="spacingAndGlyphs" >0.1</text>
<text x="46.6" y="253.8" font-size="9.53" font-weight="normal" text-anchor="end" fill="#262626" stroke="#262626" stroke-width="0.12" textLength="14.71" lengthAdjust="spacingAndGlyphs" >0.2</text>
<text x="46.6" y="226.95" font-size="9.53" font-weight="normal" text-anchor="end" fill="#262626" stroke="#262626" stroke-width="0.12" textLength="14.71" lengthAdjust="spacingAndGlyphs" >0.3</text>
<text x="46.6" y="200.1" font-size="9.53" font-weight="normal" text-anchor="end" fill="#262626" stroke="#262626" stroke-width="0.12" textLength="14.71" lengthAdjust="spacingAndGlyphs" >0.4</text>
<line x1="464.6" y1="170.5" x2="464.6" y2="317.5" stroke="#d6d6d6" stroke-width="1"/>
<line x1="540.5" y1="170.5" x2="540.5" y2="317.5" stroke="#d6d6d6" stroke-width="1"/>
<line x1="616.4" y1="170.5" x2="616.4" y2="317.5" stroke="#d6d6d6" stroke-width="1"/>
<line x1="692.3" y1="170.5" x2="692.3" y2="317.5" stroke="#d6d6d6" stroke-width="1"/>
<line x1="768.2" y1="170.5" x2="768.2" y2="317.5" stroke="#d6d6d6" stroke-width="1"/>
<line x1="449.6" y1="310.9" x2="783.3" y2="310.9" stroke="#d6d6d6" stroke-width="1"/>
<line x1="449.6" y1="284.1" x2="783.3" y2="284.1" stroke="#d6d6d6" stroke-width="1"/>
<line x1="449.6" y1="257.3" x2="783.3" y2="257.3" stroke="#d6d6d6" stroke-width="1"/>
<line x1="449.6" y1="230.5" x2="783.3" y2="230.5" stroke="#d6d6d6" stroke-width="1"/>
<line x1="449.6" y1="203.7" x2="783.3" y2="203.7" stroke="#d6d6d6" stroke-width="1"/>
<line x1="449.6" y1="176.9" x2="783.3" y2="176.9" stroke="#d6d6d6" stroke-width="1"/>
<polygon points="464.6,186.7 540.5,186 616.4,185.9 692.3,184.7 768.2,186.2 768.2,181.2 692.3,179.7 616.4,180.9 540.5,181 464.6,181.7" fill="#F5A05C" fill-opacity="0.2" stroke="none"/>
<polygon points="464.6,180.8 540.5,178.9 616.4,178.3 692.3,182.1 768.2,178.3 768.2,174.3 692.3,178.1 616.4,174.3 540.5,174.9 464.6,176.8" fill="#D9702A" fill-opacity="0.2" stroke="none"/>
<polygon points="464.6,191 540.5,187.5 616.4,202 692.3,195.2 768.2,216.9 768.2,204.9 692.3,185.2 616.4,190 540.5,179.5 464.6,183" fill="#DC143C" fill-opacity="0.2" stroke="none"/>
<polygon points="464.6,185.5 540.5,186.5 616.4,193.5 692.3,193.5 768.2,222.9 768.2,206.9 692.3,185.5 616.4,185.5 540.5,180.5 464.6,179.5" fill="#228B22" fill-opacity="0.2" stroke="none"/>
<polygon points="464.6,234.2 540.5,267.3 616.4,249.8 692.3,260.1 768.2,283.2 768.2,266.8 692.3,243.7 616.4,233.4 540.5,250.9 464.6,217.8" fill="#4169E1" fill-opacity="0.2" stroke="none"/>
<polygon points="464.6,177.8 540.5,177.9 616.4,180.4 692.3,177.9 768.2,179.9 768.2,177.9 692.3,175.9 616.4,178.4 540.5,175.9 464.6,175.8" fill="#6A5ACD" fill-opacity="0.2" stroke="none"/>
<polyline points="464.6,184.2 540.5,183.5 616.4,183.4 692.3,182.2 768.2,183.7" fill="none" stroke="#F5A05C" stroke-width="1.5" stroke-linejoin="round" stroke-linecap="round"/>
<circle cx="464.6" cy="184.2" r="2.5" fill="#F5A05C" stroke="#fff" stroke-width="1.2800000000000002" paint-order="stroke"/>
<circle cx="540.5" cy="183.5" r="2.5" fill="#F5A05C" stroke="#fff" stroke-width="1.2800000000000002" paint-order="stroke"/>
<circle cx="616.4" cy="183.4" r="2.5" fill="#F5A05C" stroke="#fff" stroke-width="1.2800000000000002" paint-order="stroke"/>
<circle cx="692.3" cy="182.2" r="2.5" fill="#F5A05C" stroke="#fff" stroke-width="1.2800000000000002" paint-order="stroke"/>
<circle cx="768.2" cy="183.7" r="2.5" fill="#F5A05C" stroke="#fff" stroke-width="1.2800000000000002" paint-order="stroke"/>
<polyline points="464.6,178.8 540.5,176.9 616.4,176.3 692.3,180.1 768.2,176.3" fill="none" stroke="#D9702A" stroke-width="1.5" stroke-linejoin="round" stroke-linecap="round"/>
<path d="M465.8,176.75L466.65,177.6L465.45,178.8L466.65,180L465.8,180.85L464.6,179.65L463.4,180.85L462.55,180L463.75,178.8L462.55,177.6L463.4,176.75L464.6,177.95Z" fill="#D9702A" stroke="#fff" stroke-width="1.92" paint-order="stroke"/>
<path d="M541.7,174.85L542.55,175.7L541.35,176.9L542.55,178.1L541.7,178.95L540.5,177.75L539.3,178.95L538.45,178.1L539.65,176.9L538.45,175.7L539.3,174.85L540.5,176.05Z" fill="#D9702A" stroke="#fff" stroke-width="1.92" paint-order="stroke"/>
<path d="M617.6,174.25L618.45,175.1L617.25,176.3L618.45,177.5L617.6,178.35L616.4,177.15L615.2,178.35L614.35,177.5L615.55,176.3L614.35,175.1L615.2,174.25L616.4,175.45Z" fill="#D9702A" stroke="#fff" stroke-width="1.92" paint-order="stroke"/>
<path d="M693.5,178.05L694.35,178.9L693.15,180.1L694.35,181.3L693.5,182.15L692.3,180.95L691.1,182.15L690.25,181.3L691.45,180.1L690.25,178.9L691.1,178.05L692.3,179.25Z" fill="#D9702A" stroke="#fff" stroke-width="1.92" paint-order="stroke"/>
<path d="M769.4,174.25L770.25,175.1L769.05,176.3L770.25,177.5L769.4,178.35L768.2,177.15L767,178.35L766.15,177.5L767.35,176.3L766.15,175.1L767,174.25L768.2,175.45Z" fill="#D9702A" stroke="#fff" stroke-width="1.92" paint-order="stroke"/>
<polyline points="464.6,187 540.5,183.5 616.4,196 692.3,190.2 768.2,210.9" fill="none" stroke="#DC143C" stroke-width="1.5" stroke-linejoin="round" stroke-linecap="round"/>
<rect x="462.85" y="185.25" width="3.5" height="3.5" fill="#DC143C" stroke="#fff" stroke-width="1.6" paint-order="stroke"/>
<rect x="538.75" y="181.75" width="3.5" height="3.5" fill="#DC143C" stroke="#fff" stroke-width="1.6" paint-order="stroke"/>
<rect x="614.65" y="194.25" width="3.5" height="3.5" fill="#DC143C" stroke="#fff" stroke-width="1.6" paint-order="stroke"/>
<rect x="690.55" y="188.45" width="3.5" height="3.5" fill="#DC143C" stroke="#fff" stroke-width="1.6" paint-order="stroke"/>
<rect x="766.45" y="209.15" width="3.5" height="3.5" fill="#DC143C" stroke="#fff" stroke-width="1.6" paint-order="stroke"/>
<polyline points="464.6,182.5 540.5,183.5 616.4,189.5 692.3,189.5 768.2,214.9" fill="none" stroke="#228B22" stroke-width="1.5" stroke-linejoin="round" stroke-linecap="round"/>
<path d="M464.05,179.9L465.15,179.9L465.15,181.95L467.2,181.95L467.2,183.05L465.15,183.05L465.15,185.1L464.05,185.1L464.05,183.05L462,183.05L462,181.95L464.05,181.95Z" fill="#228B22" stroke="#fff" stroke-width="1.6" paint-order="stroke"/>
<path d="M539.95,180.9L541.05,180.9L541.05,182.95L543.1,182.95L543.1,184.05L541.05,184.05L541.05,186.1L539.95,186.1L539.95,184.05L537.9,184.05L537.9,182.95L539.95,182.95Z" fill="#228B22" stroke="#fff" stroke-width="1.6" paint-order="stroke"/>
<path d="M615.85,186.9L616.95,186.9L616.95,188.95L619,188.95L619,190.05L616.95,190.05L616.95,192.1L615.85,192.1L615.85,190.05L613.8,190.05L613.8,188.95L615.85,188.95Z" fill="#228B22" stroke="#fff" stroke-width="1.6" paint-order="stroke"/>
<path d="M691.75,186.9L692.85,186.9L692.85,188.95L694.9,188.95L694.9,190.05L692.85,190.05L692.85,192.1L691.75,192.1L691.75,190.05L689.7,190.05L689.7,188.95L691.75,188.95Z" fill="#228B22" stroke="#fff" stroke-width="1.6" paint-order="stroke"/>
<path d="M767.65,212.3L768.75,212.3L768.75,214.35L770.8,214.35L770.8,215.45L768.75,215.45L768.75,217.5L767.65,217.5L767.65,215.45L765.6,215.45L765.6,214.35L767.65,214.35Z" fill="#228B22" stroke="#fff" stroke-width="1.6" paint-order="stroke"/>
<polyline points="464.6,226 540.5,259.1 616.4,241.6 692.3,251.9 768.2,275" fill="none" stroke="#4169E1" stroke-width="1.5" stroke-linejoin="round" stroke-linecap="round"/>
<path d="M464.6,223.7L466.9,226L464.6,228.3L462.3,226Z" fill="#4169E1" stroke="#fff" stroke-width="1.6" paint-order="stroke"/>
<path d="M540.5,256.8L542.8,259.1L540.5,261.4L538.2,259.1Z" fill="#4169E1" stroke="#fff" stroke-width="1.6" paint-order="stroke"/>
<path d="M616.4,239.3L618.7,241.6L616.4,243.9L614.1,241.6Z" fill="#4169E1" stroke="#fff" stroke-width="1.6" paint-order="stroke"/>
<path d="M692.3,249.6L694.6,251.9L692.3,254.2L690,251.9Z" fill="#4169E1" stroke="#fff" stroke-width="1.6" paint-order="stroke"/>
<path d="M768.2,272.7L770.5,275L768.2,277.3L765.9,275Z" fill="#4169E1" stroke="#fff" stroke-width="1.6" paint-order="stroke"/>
<polyline points="464.6,176.8 540.5,176.9 616.4,179.4 692.3,176.9 768.2,178.9" fill="none" stroke="#6A5ACD" stroke-width="1.5" stroke-linejoin="round" stroke-linecap="round"/>
<path d="M464.6,174.7L466.4,176.8L464.6,178.9L462.8,176.8Z" fill="#6A5ACD" stroke="#fff" stroke-width="1.6" paint-order="stroke"/>
<path d="M540.5,174.8L542.3,176.9L540.5,179L538.7,176.9Z" fill="#6A5ACD" stroke="#fff" stroke-width="1.6" paint-order="stroke"/>
<path d="M616.4,177.3L618.2,179.4L616.4,181.5L614.6,179.4Z" fill="#6A5ACD" stroke="#fff" stroke-width="1.6" paint-order="stroke"/>
<path d="M692.3,174.8L694.1,176.9L692.3,179L690.5,176.9Z" fill="#6A5ACD" stroke="#fff" stroke-width="1.6" paint-order="stroke"/>
<path d="M768.2,176.8L770,178.9L768.2,181L766.4,178.9Z" fill="#6A5ACD" stroke="#fff" stroke-width="1.6" paint-order="stroke"/>
<rect x="449.6" y="170.5" width="333.7" height="147" fill="none" stroke="#d4d4d4" stroke-width="1.2"/>
<text x="443.5" y="314.4" font-size="9.53" font-weight="normal" text-anchor="end" fill="#262626" stroke="#262626" stroke-width="0.12" textLength="14.71" lengthAdjust="spacingAndGlyphs" >0.0</text>
<text x="443.5" y="287.6" font-size="9.53" font-weight="normal" text-anchor="end" fill="#262626" stroke="#262626" stroke-width="0.12" textLength="14.71" lengthAdjust="spacingAndGlyphs" >0.2</text>
<text x="443.5" y="260.8" font-size="9.53" font-weight="normal" text-anchor="end" fill="#262626" stroke="#262626" stroke-width="0.12" textLength="14.71" lengthAdjust="spacingAndGlyphs" >0.4</text>
<text x="443.5" y="234" font-size="9.53" font-weight="normal" text-anchor="end" fill="#262626" stroke="#262626" stroke-width="0.12" textLength="14.71" lengthAdjust="spacingAndGlyphs" >0.6</text>
<text x="443.5" y="207.2" font-size="9.53" font-weight="normal" text-anchor="end" fill="#262626" stroke="#262626" stroke-width="0.12" textLength="14.71" lengthAdjust="spacingAndGlyphs" >0.8</text>
<text x="443.5" y="180.4" font-size="9.53" font-weight="normal" text-anchor="end" fill="#262626" stroke="#262626" stroke-width="0.12" textLength="14.71" lengthAdjust="spacingAndGlyphs" >1.0</text>
<text x="68.5" y="330.9" font-size="9.53" font-weight="normal" text-anchor="middle" fill="#262626" stroke="#262626" stroke-width="0.12" textLength="13.64" lengthAdjust="spacingAndGlyphs" >#0</text>
<text x="464.6" y="330.9" font-size="9.53" font-weight="normal" text-anchor="middle" fill="#262626" stroke="#262626" stroke-width="0.12" textLength="13.64" lengthAdjust="spacingAndGlyphs" >#0</text>
<text x="144.25" y="330.9" font-size="9.53" font-weight="normal" text-anchor="middle" fill="#262626" stroke="#262626" stroke-width="0.12" textLength="13.64" lengthAdjust="spacingAndGlyphs" >#1</text>
<text x="540.5" y="330.9" font-size="9.53" font-weight="normal" text-anchor="middle" fill="#262626" stroke="#262626" stroke-width="0.12" textLength="13.64" lengthAdjust="spacingAndGlyphs" >#1</text>
<text x="220" y="330.9" font-size="9.53" font-weight="normal" text-anchor="middle" fill="#262626" stroke="#262626" stroke-width="0.12" textLength="13.64" lengthAdjust="spacingAndGlyphs" >#2</text>
<text x="616.4" y="330.9" font-size="9.53" font-weight="normal" text-anchor="middle" fill="#262626" stroke="#262626" stroke-width="0.12" textLength="13.64" lengthAdjust="spacingAndGlyphs" >#2</text>
<text x="295.75" y="330.9" font-size="9.53" font-weight="normal" text-anchor="middle" fill="#262626" stroke="#262626" stroke-width="0.12" textLength="13.64" lengthAdjust="spacingAndGlyphs" >#3</text>
<text x="692.3" y="330.9" font-size="9.53" font-weight="normal" text-anchor="middle" fill="#262626" stroke="#262626" stroke-width="0.12" textLength="13.64" lengthAdjust="spacingAndGlyphs" >#3</text>
<text x="371.5" y="330.9" font-size="9.53" font-weight="normal" text-anchor="middle" fill="#262626" stroke="#262626" stroke-width="0.12" textLength="13.64" lengthAdjust="spacingAndGlyphs" >#4</text>
<text x="768.2" y="330.9" font-size="9.53" font-weight="normal" text-anchor="middle" fill="#262626" stroke="#262626" stroke-width="0.12" textLength="13.64" lengthAdjust="spacingAndGlyphs" >#4</text>
<text x="219.9" y="343.2" font-size="9.47" font-weight="bold" text-anchor="middle" fill="#262626" stroke="#262626" stroke-width="0.3" textLength="80.39" lengthAdjust="spacingAndGlyphs" >System Prompt</text>
<text x="616.5" y="343.2" font-size="9.47" font-weight="bold" text-anchor="middle" fill="#262626" stroke="#262626" stroke-width="0.3" textLength="80.39" lengthAdjust="spacingAndGlyphs" >System Prompt</text>
<text x="0" y="0" transform="translate(17.5,83) rotate(-90)" font-size="10.7" font-weight="bold" text-anchor="middle" fill="#262626" stroke="#262626" stroke-width="0.3" textLength="101.97" lengthAdjust="spacingAndGlyphs">Reasoning Tokens</text>
<text x="0" y="0" transform="translate(423.1,83.8) rotate(-90)" font-size="10.7" font-weight="bold" text-anchor="middle" fill="#262626" stroke="#262626" stroke-width="0.3" textLength="72.29" lengthAdjust="spacingAndGlyphs">Refusal Rate</text>
<text x="0" y="0" transform="translate(26.5,244.7) rotate(-90)" font-size="10.7" font-weight="bold" text-anchor="middle" fill="#262626" stroke="#262626" stroke-width="0.3" textLength="155.74" lengthAdjust="spacingAndGlyphs">Safety/Math Keyword Ratio</text>
<text x="0" y="0" transform="translate(423,243.8) rotate(-90)" font-size="10.7" font-weight="bold" text-anchor="middle" fill="#262626" stroke="#262626" stroke-width="0.3" textLength="149.68" lengthAdjust="spacingAndGlyphs">MATH Answer Correctness</text>
<rect x="92.5" y="358.5" width="608" height="29.8" rx="2" ry="2" fill="#fff" stroke="#aaaaaa" stroke-width="1"/>
<line x1="95.5" y1="366.2" x2="115.3" y2="366.2" stroke="#F5A05C" stroke-width="1.6"/>
<circle cx="105.4" cy="366.2" r="2.5" fill="#F5A05C" stroke="#fff" stroke-width="1.2800000000000002" paint-order="stroke"/>
<text x="121.5" y="369.8" font-size="9.75" font-weight="normal" text-anchor="start" fill="#262626" stroke="#262626" stroke-width="0.12" textLength="84.96" lengthAdjust="spacingAndGlyphs" >openai/gpt-5-nano</text>
<line x1="95.5" y1="379.5" x2="115.3" y2="379.5" stroke="#D9702A" stroke-width="1.6"/>
<path d="M106.6,377.45L107.45,378.3L106.25,379.5L107.45,380.7L106.6,381.55L105.4,380.35L104.2,381.55L103.35,380.7L104.55,379.5L103.35,378.3L104.2,377.45L105.4,378.65Z" fill="#D9702A" stroke="#fff" stroke-width="1.92" paint-order="stroke"/>
<text x="121.5" y="383.1" font-size="9.75" font-weight="normal" text-anchor="start" fill="#262626" stroke="#262626" stroke-width="0.12" textLength="81.94" lengthAdjust="spacingAndGlyphs" >openai/gpt-5-mini</text>
<line x1="224.2" y1="366.2" x2="244" y2="366.2" stroke="#DC143C" stroke-width="1.6"/>
<rect x="232.35" y="364.45" width="3.5" height="3.5" fill="#DC143C" stroke="#fff" stroke-width="1.6" paint-order="stroke"/>
<text x="250.5" y="369.8" font-size="9.75" font-weight="normal" text-anchor="start" fill="#262626" stroke="#262626" stroke-width="0.12" textLength="123.43" lengthAdjust="spacingAndGlyphs" >anthropic/claude-haiku-4.5</text>
<line x1="224.2" y1="379.5" x2="244" y2="379.5" stroke="#228B22" stroke-width="1.6"/>
<path d="M233.55,376.9L234.65,376.9L234.65,378.95L236.7,378.95L236.7,380.05L234.65,380.05L234.65,382.1L233.55,382.1L233.55,380.05L231.5,380.05L231.5,378.95L233.55,378.95Z" fill="#228B22" stroke="#fff" stroke-width="1.6" paint-order="stroke"/>
<text x="250.5" y="383.1" font-size="9.75" font-weight="normal" text-anchor="start" fill="#262626" stroke="#262626" stroke-width="0.12" textLength="126.69" lengthAdjust="spacingAndGlyphs" >google/gemini-2.5-flash-lite</text>
<line x1="394.9" y1="366.2" x2="414.7" y2="366.2" stroke="#4169E1" stroke-width="1.6"/>
<path d="M404.8,363.9L407.1,366.2L404.8,368.5L402.5,366.2Z" fill="#4169E1" stroke="#fff" stroke-width="1.6" paint-order="stroke"/>
<text x="421.1" y="369.8" font-size="9.75" font-weight="normal" text-anchor="start" fill="#262626" stroke="#262626" stroke-width="0.12" textLength="152.34" lengthAdjust="spacingAndGlyphs" >meta-llama/llama-3.1-8b-instruct</text>
<line x1="591.2" y1="366.2" x2="611" y2="366.2" stroke="#6A5ACD" stroke-width="1.6"/>
<path d="M601.1,364.1L602.9,366.2L601.1,368.3L599.3,366.2Z" fill="#6A5ACD" stroke="#fff" stroke-width="1.6" paint-order="stroke"/>
<text x="617.4" y="369.8" font-size="9.75" font-weight="normal" text-anchor="start" fill="#262626" stroke="#262626" stroke-width="0.12" textLength="79.53" lengthAdjust="spacingAndGlyphs" >qwen/qwen3-32b</text>
</svg></body></html>
